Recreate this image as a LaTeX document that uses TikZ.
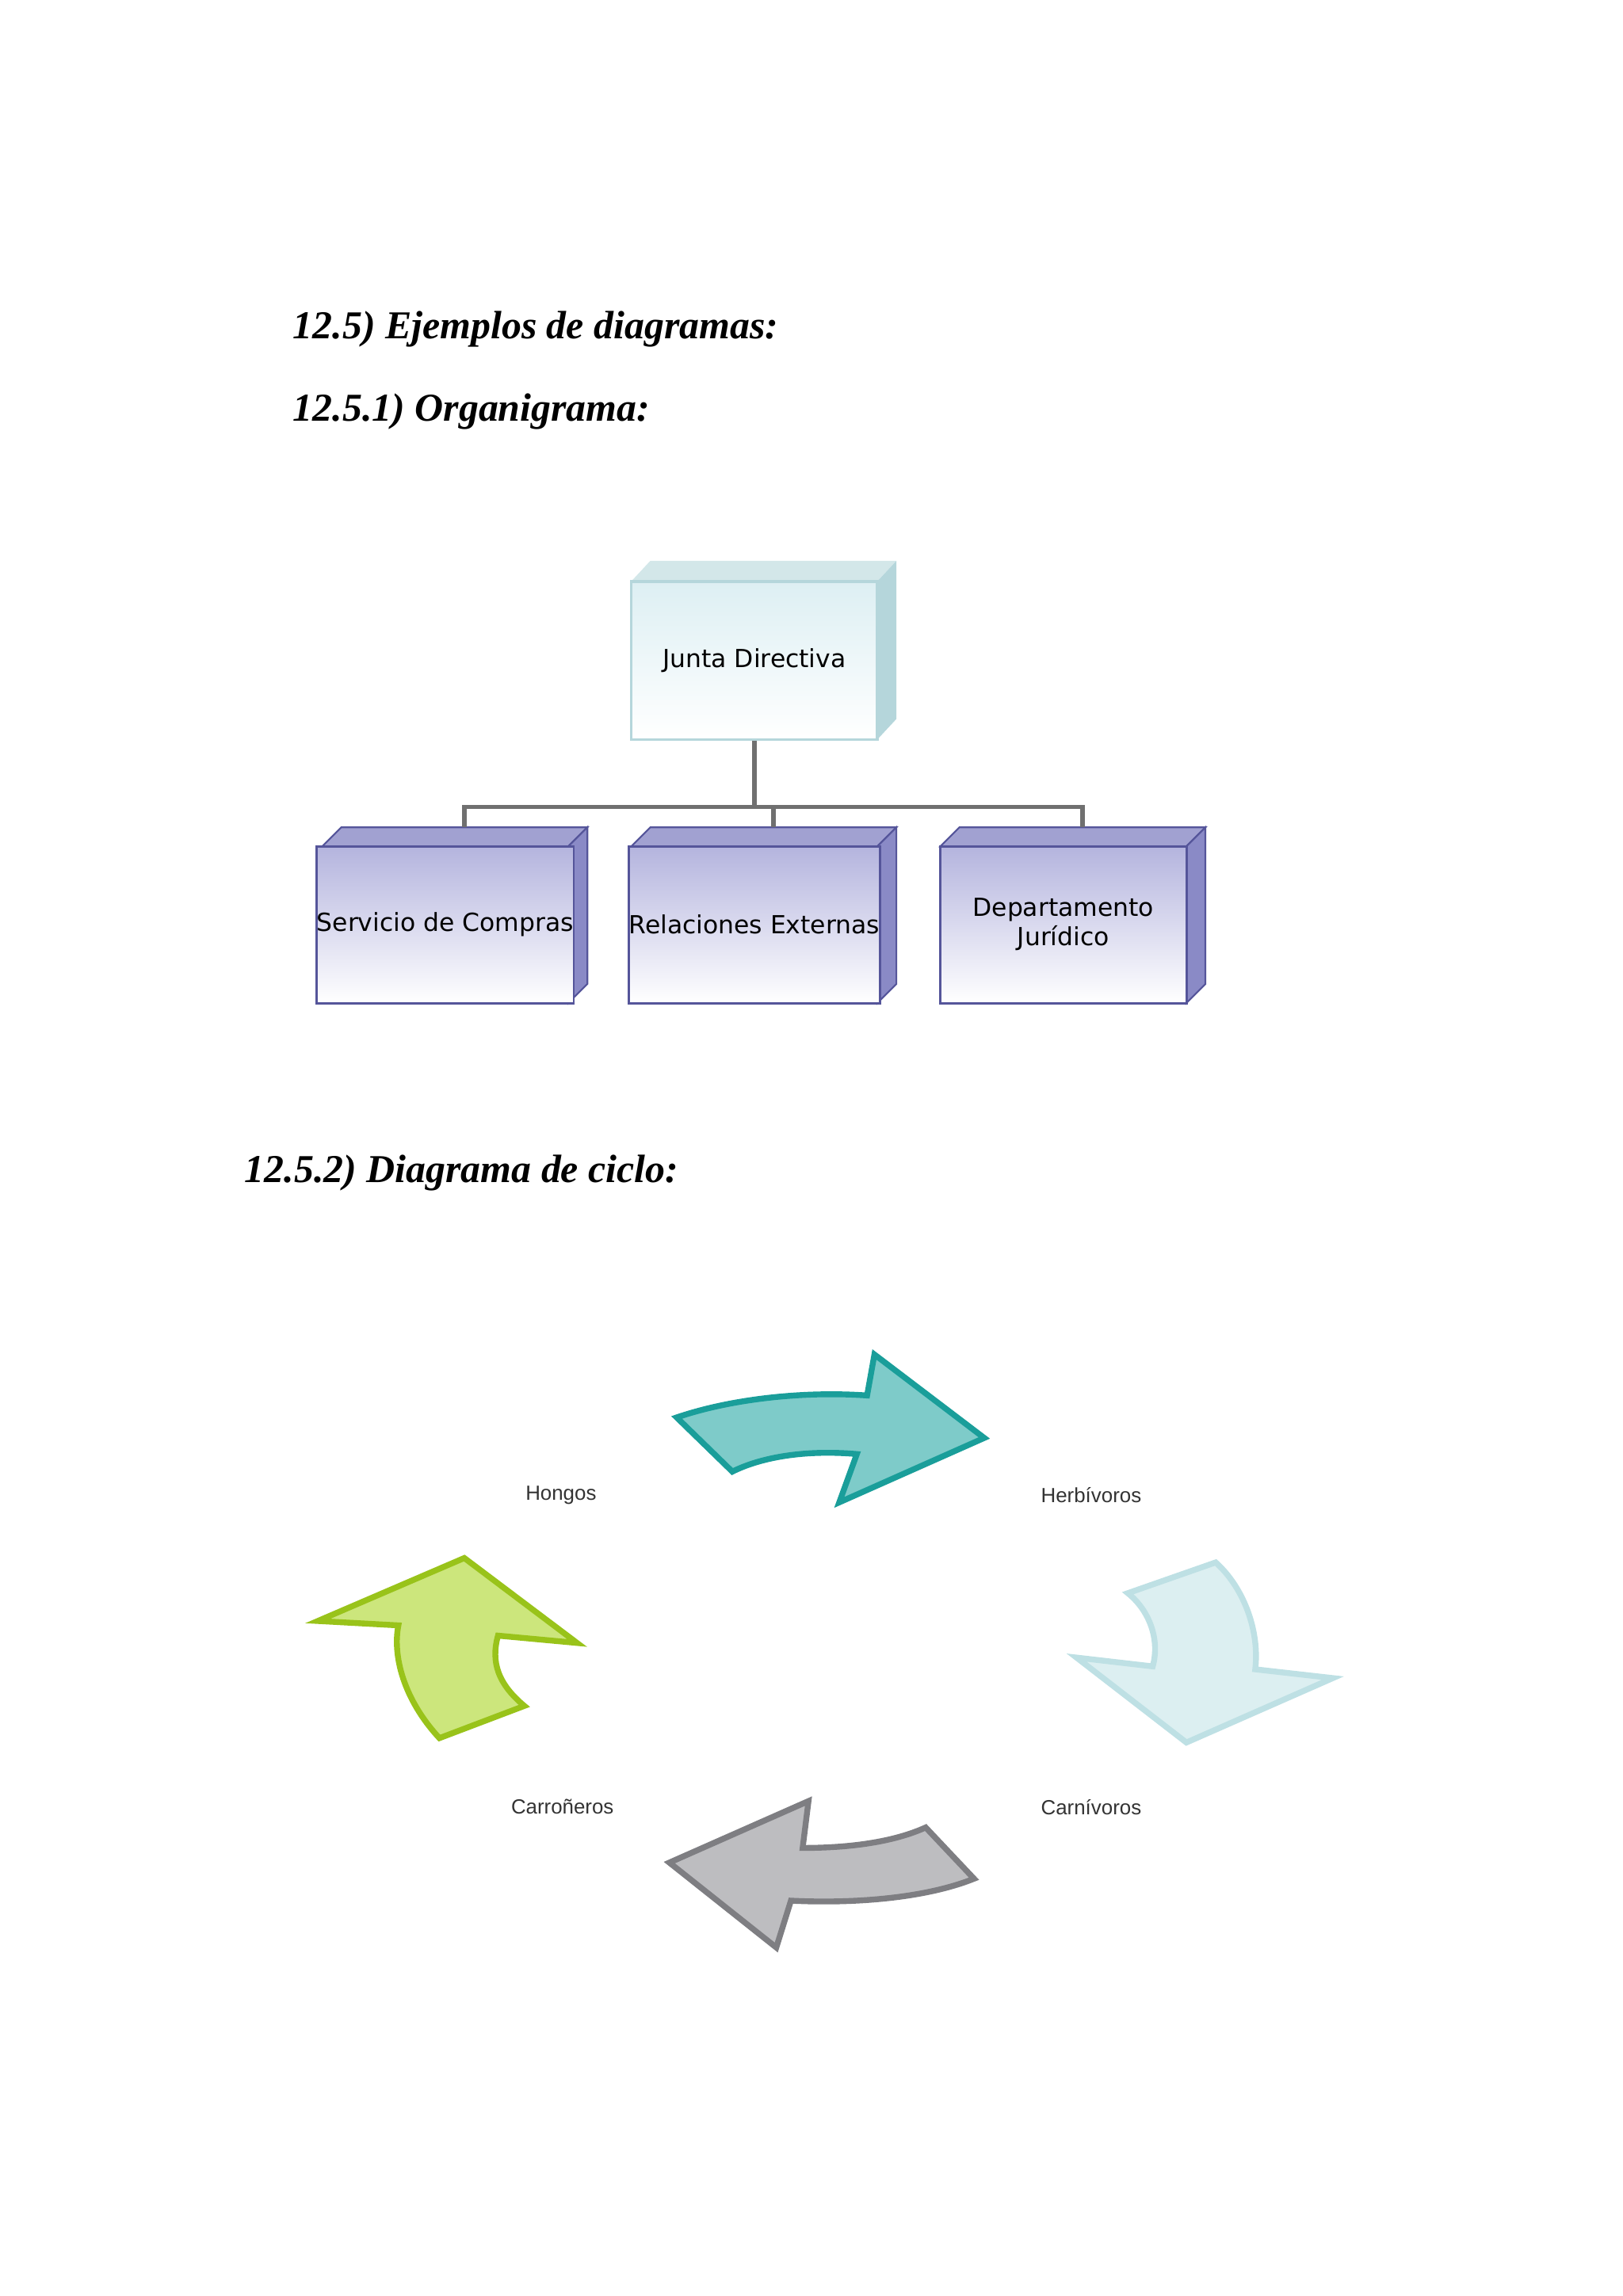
\documentclass[tikz,border=0pt]{standalone}
\usepackage{fontspec}
\setmainfont{Liberation Serif}
\newfontfamily\boxfont{DejaVu Sans}
\newfontfamily\lblfont{Liberation Sans}
\definecolor{topfill}{HTML}{DDEFF3}
\definecolor{topline}{HTML}{B5D6DB}
\definecolor{lavfill}{HTML}{B4B4DE}
\definecolor{lavline}{HTML}{55559A}
\definecolor{lavside}{HTML}{8A8AC6}
\definecolor{conn}{HTML}{707070}
\definecolor{tealf}{HTML}{7ECBC9}\definecolor{teald}{HTML}{1A9E9A}
\definecolor{lightf}{HTML}{DCEFF1}\definecolor{lightd}{HTML}{BEE0E4}
\definecolor{greyf}{HTML}{BDBDC0}\definecolor{greyd}{HTML}{7E7E82}
\definecolor{greenf}{HTML}{CCE67C}\definecolor{greend}{HTML}{99C31A}
\begin{document}
\begin{tikzpicture}[x=0.5pt,y=-0.5pt,
  heading/.style={anchor=west,font=\fontsize{13.5}{16}\selectfont\bfseries\itshape},
  topbox/.style={draw=topline,line width=1pt,top color=topfill,bottom color=white,minimum width=84pt,minimum height=54pt,inner sep=0pt,font=\boxfont\fontsize{8.5}{10}\selectfont,align=center},
  subbox/.style={draw=lavline,line width=0.8pt,top color=lavfill,bottom color=white,minimum width=84pt,minimum height=53.5pt,inner sep=0pt,font=\boxfont\fontsize{8.5}{10}\selectfont,align=center},
  conline/.style={draw=conn,line width=1.5pt},
  lbl/.style={font=\lblfont\fontsize{7}{8}\selectfont,text=black!80},
  cyc/.style={line width=2pt,line join=miter}]
\useasboundingbox (0,0) rectangle (1108,1568);
\node[heading] (h1) at (193,225) {12.5) Ejemplos de diagramas:};
\node[heading] (h2) at (193,281) {12.5.1) Organigrama:};
\node[heading] (h3) at (160,801) {12.5.2) Diagrama de ciclo:};
% top box
\fill[topline!60] (431,397) -- (444,383) -- (612,383) -- (599,397) -- cycle;
\fill[topline] (599,397) -- (612,383) -- (612,491) -- (599,505) -- cycle;
\node[topbox] (jd) at (515,451) {Junta Directiva};
% sub boxes
\foreach \n/\cx in {sc/304,re/515,dj/726}{
  \fill[lavside!80,draw=lavline,line width=0.6pt] (\cx-84,578) -- (\cx-71,565) -- (\cx+97,565) -- (\cx+84,578) -- cycle;
  \fill[lavside,draw=lavline,line width=0.6pt] (\cx+84,578) -- (\cx+97,565) -- (\cx+97,672) -- (\cx+84,685) -- cycle;
}
\node[subbox] (sc) at (304,631.5) {Servicio de Compras};
\node[subbox] (re) at (515,631.5) {Relaciones Externas};
\node[subbox] (dj) at (726,631.5) {Departamento\\Jurídico};
\coordinate (bus) at (515,551);
\draw[conline] (jd.south) -- (bus);
\draw[conline] (317,565) -- (317,551) -- (739,551) -- (739,565);
\draw[conline] (528,551) -- (528,565);
% cycle labels
\node[lbl] (hon) at (383,1021) {Hongos};
\node[lbl] (her) at (745,1021) {Herbívoros};
\node[lbl] (car) at (745,1234) {Carnívoros};
\node[lbl] (cao) at (384,1234) {Carroñeros};
% arrows
\filldraw[cyc,fill=tealf,draw=teald] (462,968) .. controls (500,955) and (550,950) .. (592,953) -- (597,925) -- (672,982) -- (573,1026) -- (585,993) .. controls (550,990) and (520,995) .. (500,1005) -- cycle;
\filldraw[cyc,fill=lightf,draw=lightd] (770,1088) -- (830,1067) .. controls (850,1085) and (860,1115) .. (857,1140) -- (910,1146) -- (810,1190) -- (735,1132) -- (787,1138) .. controls (792,1120) and (785,1100) .. (770,1088) -- cycle;
\filldraw[cyc,fill=greyf,draw=greyd] (665,1283) .. controls (630,1297) and (580,1300) .. (540,1298) -- (530,1330) -- (457,1272) -- (552,1230) -- (548,1262) .. controls (580,1262) and (610,1258) .. (632,1248) -- cycle;
\filldraw[cyc,fill=greenf,draw=greend] (300,1187) .. controls (275,1160) and (268,1130) .. (272,1110) -- (217,1107) -- (317,1064) -- (394,1122) -- (340,1117) .. controls (335,1135) and (340,1150) .. (358,1165) -- cycle;
\end{tikzpicture}
\end{document}
